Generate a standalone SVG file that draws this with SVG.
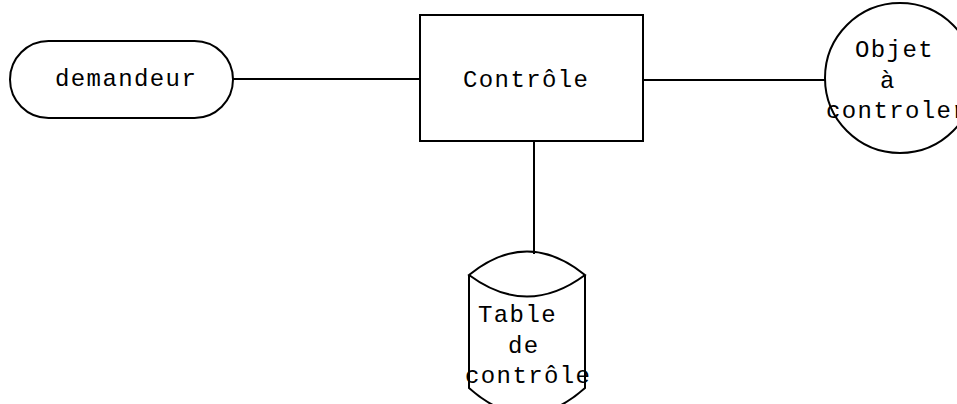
<svg xmlns="http://www.w3.org/2000/svg" width="957" height="404" viewBox="0 0 957 404">
<style>
.s{fill:none;stroke:#000;stroke-width:2}
.t{font-family:"Liberation Mono","Courier New",monospace;font-size:24px;letter-spacing:1.4px;fill:#000}
</style>
<rect width="957" height="404" fill="#fff"/>
<g id="connectors">
<line class="s" x1="233" y1="79" x2="420" y2="79"/>
<line class="s" x1="643" y1="80" x2="825" y2="80"/>
<line class="s" x1="534" y1="141" x2="534" y2="254"/>
</g>
<g id="demandeur">
<rect class="s" x="10" y="41" width="223" height="77" rx="38.5" ry="38.5"/>
<text class="t" x="55" y="86">demandeur</text>
</g>
<g id="controle">
<rect class="s" x="420" y="15" width="223" height="126"/>
<text class="t" x="463" y="87">Contrôle</text>
</g>
<g id="objet">
<circle class="s" cx="900" cy="78" r="75"/>
<text class="t" x="855" y="57">Objet</text>
<text class="t" x="880" y="88">à</text>
<text class="t" x="826" y="118">controler</text>
</g>
<g id="table">
<path class="s" d="M469 275 Q527 228 585 275 Q527 318 469 275 Z M469 275 L469 388 Q527 440 585 388 L585 275"/>
<text class="t" x="478" y="322">Table</text>
<text class="t" x="508" y="353">de</text>
<text class="t" x="465" y="383">contrôle</text>
</g>
</svg>
